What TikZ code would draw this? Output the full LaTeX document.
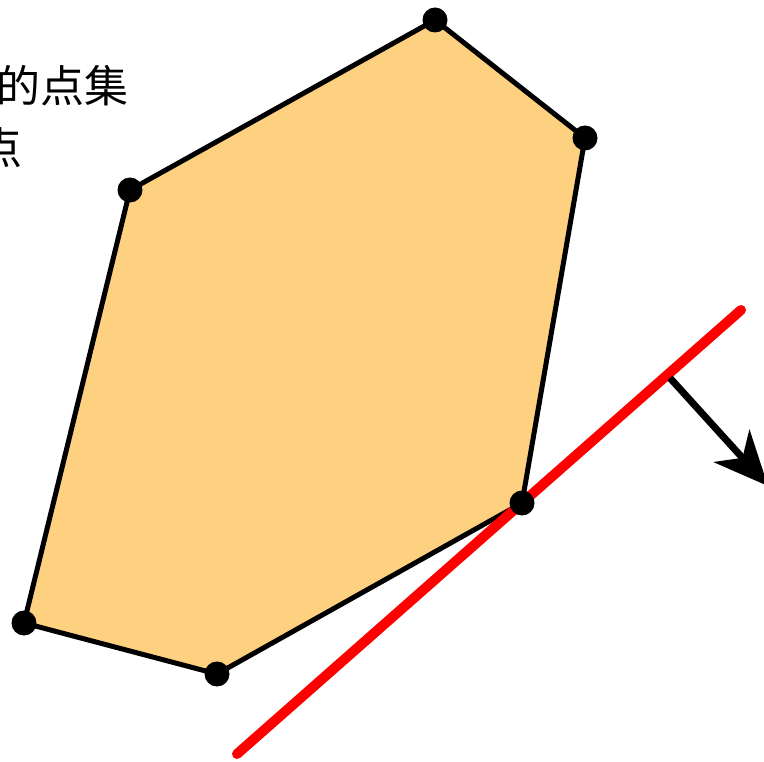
\documentclass[tikz,border=0pt]{standalone}
\usepackage{fontspec}
\newfontfamily\cjkfont{Noto Sans CJK SC}
\usetikzlibrary{arrows.meta}
\definecolor{hullfill}{RGB}{253,209,127}
\tikzset{
  vertex/.style={circle, fill=black, inner sep=0pt, minimum size=25pt},
  hulledge/.style={line width=5pt, line join=round},
  support/.style={red, line width=10pt, line cap=round},
  normalvec/.style={line width=7pt, -{Stealth[length=54pt, width=48pt, inset=16pt]}},
  label/.style={font=\cjkfont\fontsize{44}{44}\selectfont, inner sep=0pt}
}
\begin{document}
\begin{tikzpicture}[x=1pt, y=-1pt]
\useasboundingbox (0,0) rectangle (764,762);
\clip (0,0) rectangle (764,762);
% hull vertices
\coordinate (p1) at (435,20);
\coordinate (p2) at (585,138);
\coordinate (p3) at (522,503);
\coordinate (p4) at (217,674);
\coordinate (p5) at (24,623);
\coordinate (p6) at (130,190);
% supporting line and its normal
\coordinate (s1) at (237,754);
\coordinate (s2) at (741,310);
\coordinate (n1) at (670,378);
\coordinate (n2) at (768,486);
\draw[hulledge, fill=hullfill] (p1) -- (p2) -- (p3) -- (p4) -- (p5) -- (p6) -- cycle;
\draw[support] (s1) -- (s2);
\draw[normalvec] (n1) -- (n2);
\foreach \p in {p1,p2,p3,p4,p5,p6}
  \node[vertex] (v\p) at (\p) {};
\node[label, anchor=east] (txt1) at (129,86) {的点集};
\node[label, anchor=east] (txt2) at (23,148) {点};
\end{tikzpicture}
\end{document}
